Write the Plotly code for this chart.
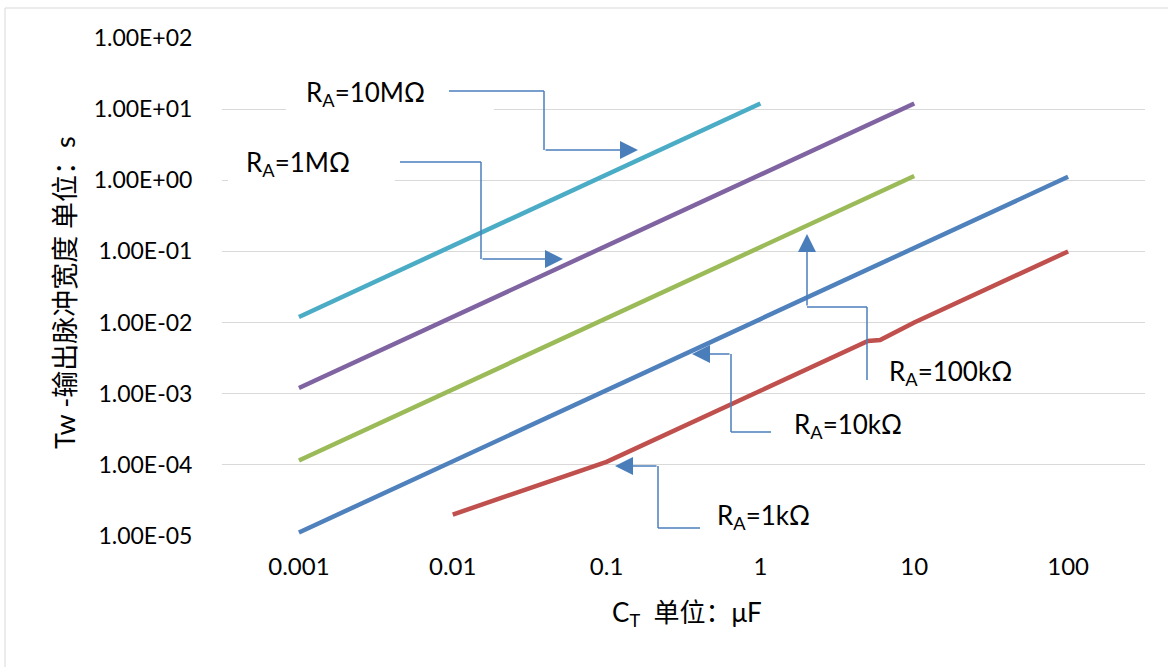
import plotly.graph_objects as go

# ---------------- data ----------------
ct_10M = [0.001, 0.01, 0.1, 1]
tw_10M = [0.012, 0.12, 1.2, 12]

ct_1M = [0.001, 0.01, 0.1, 1, 10]
tw_1M = [0.0012, 0.012, 0.12, 1.2, 12]

ct_100k = [0.001, 0.01, 0.1, 1, 10]
tw_100k = [1.15e-4, 1.15e-3, 0.0115, 0.115, 1.15]

ct_10k = [0.001, 0.01, 0.1, 1, 10, 100]
tw_10k = [1.12e-5, 1.12e-4, 1.12e-3, 0.0112, 0.112, 1.12]

ct_1k = [0.01, 0.1, 1, 5, 6, 10, 100]
tw_1k = [2.0e-5, 1.1e-4, 1.1e-3, 5.5e-3, 5.7e-3, 1.0e-2, 0.1]

x_tickvals = [0.001, 0.01, 0.1, 1, 10, 100]
x_ticktext = ["0.001", "0.01", "0.1", "1", "10", "100"]
y_tickvals = [1e-5, 1e-4, 1e-3, 1e-2, 1e-1, 1e0, 1e1, 1e2]
y_ticktext = ["1.00E-05", "1.00E-04", "1.00E-03", "1.00E-02",
              "1.00E-01", "1.00E+00", "1.00E+01", "1.00E+02"]

labels = ["R<sub>A</sub>=10MΩ", "R<sub>A</sub>=1MΩ", "R<sub>A</sub>=100kΩ",
          "R<sub>A</sub>=10kΩ", "R<sub>A</sub>=1kΩ"]
x_title = "C<sub>T</sub>  单位：μF"
y_title = "Tw -输出脉冲宽度 单位：s"

FONT = "Lato, 'Noto Sans CJK SC', sans-serif"
W, H = 1168, 667
L, R, T, B = 222, 23, 38, 131
PW, PH = W - L - R, H - T - B


def px(x):
    return (x - L) / PW


def py(y):
    return (H - B - y) / PH


fig = go.Figure()
series = [
    (ct_10M, tw_10M, "#4BACC6"),
    (ct_1M, tw_1M, "#8064A2"),
    (ct_100k, tw_100k, "#9BBB59"),
    (ct_10k, tw_10k, "#4F81BD"),
    (ct_1k, tw_1k, "#C0504D"),
]
for (xs, ys, c), name in zip(series, labels):
    fig.add_trace(go.Scatter(x=xs, y=ys, mode="lines", name=name,
                             line=dict(color=c, width=4.5), showlegend=False,
                             hoverinfo="x+y"))

shapes = []
# chart-area border
shapes.append(dict(type="rect", xref="paper", yref="paper",
                   x0=px(5), x1=px(1180), y0=py(8), y1=py(680),
                   line=dict(color="#D9D9D9", width=1), layer="below"))
# white callout boxes (hide gridlines under label boxes)
for (x0, x1, y0, y1) in [(286, 494, 72, 114), (228, 395, 142, 185)]:
    shapes.append(dict(type="rect", xref="paper", yref="paper",
                       x0=px(x0), x1=px(x1), y0=py(y1), y1=py(y0),
                       fillcolor="white", line=dict(width=0), layer="above"))

CALL = "#4A7EBB"
# callout connector paths (pixel positions of layout elements), last segment has arrow
callouts = [
    [(449, 91), (544, 91), (544, 150), (638, 150)],
    [(400, 162), (481, 162), (481, 259), (563, 259)],
    [(867, 380), (867, 307), (807, 307), (807, 234)],
    [(771, 432), (731, 432), (731, 354), (692, 354)],
    [(700, 528), (658, 528), (658, 466), (615, 466)],
]
annotations = []
for pts in callouts:
    for (a, b) in zip(pts[:-2], pts[1:-1]):
        shapes.append(dict(type="line", xref="paper", yref="paper",
                           x0=px(a[0]), y0=py(a[1]), x1=px(b[0]), y1=py(b[1]),
                           line=dict(color=CALL, width=1.5), layer="above"))
    (ax_, ay_), (tx, ty) = pts[-2], pts[-1]
    annotations.append(dict(xref="paper", yref="paper", x=px(tx), y=py(ty),
                            ax=ax_ - tx, ay=ay_ - ty, text="", showarrow=True,
                            arrowhead=2, arrowsize=2.4, arrowwidth=1.5,
                            arrowcolor=CALL))

label_pos = [(304, 93), (244, 163), (887, 372), (792, 425), (715, 516)]
for txt, (lx, ly) in zip(labels, label_pos):
    annotations.append(dict(xref="paper", yref="paper", x=px(lx), y=py(ly),
                            xanchor="left", yanchor="middle", text=txt,
                            showarrow=False,
                            font=dict(family=FONT, size=26, color="#000000")))

# axis titles
annotations.append(dict(xref="paper", yref="paper", x=px(687), y=py(613),
                        xanchor="center", yanchor="middle", text=x_title,
                        showarrow=False,
                        font=dict(family=FONT, size=26, color="#000000")))
annotations.append(dict(xref="paper", yref="paper", x=px(64), y=py(293),
                        xanchor="center", yanchor="middle", text=y_title,
                        textangle=-90, showarrow=False,
                        font=dict(family=FONT, size=27, color="#000000")))

fig.update_layout(
    width=W, height=H,
    margin=dict(l=L, r=R, t=T, b=B, pad=0),
    paper_bgcolor="white", plot_bgcolor="white",
    font=dict(family=FONT, color="#000000"),
    shapes=shapes, annotations=annotations,
    xaxis=dict(type="log", range=[-3.5, 2.5], tickvals=x_tickvals,
               ticktext=x_ticktext, showgrid=False, zeroline=False,
               showline=False, ticks="outside", ticklen=9,
               tickcolor="rgba(0,0,0,0)", tickfont=dict(size=24)),
    yaxis=dict(type="log", range=[-5, 2], tickvals=y_tickvals,
               ticktext=y_ticktext, showgrid=True, gridcolor="#D9D9D9",
               gridwidth=1.3, zeroline=False, showline=False,
               ticks="outside", ticklen=24, tickcolor="rgba(0,0,0,0)",
               tickfont=dict(size=23)),
)

fig.write_html("out.html", config={"displayModeBar": False},
               post_script="document.body.style.margin='0';document.body.style.padding='0';")
